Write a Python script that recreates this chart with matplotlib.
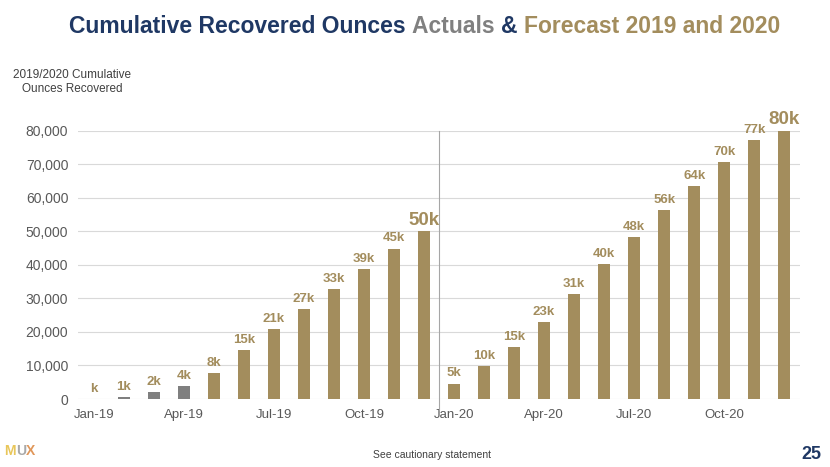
import numpy as np
import matplotlib.pyplot as plt
from matplotlib.ticker import FuncFormatter

plt.rcParams['font.family'] = ['Liberation Sans', 'DejaVu Sans']

# monthly cumulative ounces, Jan-19 .. Dec-20
months = ['Jan-19', 'Feb-19', 'Mar-19', 'Apr-19', 'May-19', 'Jun-19', 'Jul-19', 'Aug-19',
          'Sep-19', 'Oct-19', 'Nov-19', 'Dec-19', 'Jan-20', 'Feb-20', 'Mar-20', 'Apr-20',
          'May-20', 'Jun-20', 'Jul-20', 'Aug-20', 'Sep-20', 'Oct-20', 'Nov-20', 'Dec-20']
ounces = [0, 500, 2000, 3800, 7850, 14700, 20800, 26800, 32900, 38700, 44900, 50000,
          4600, 9800, 15450, 22900, 31200, 40150, 48400, 56300, 63600, 70650, 77300, 80000]
bar_labels = ['k', '1k', '2k', '4k', '8k', '15k', '21k', '27k', '33k', '39k', '45k', '50k',
              '5k', '10k', '15k', '23k', '31k', '40k', '48k', '56k', '64k', '70k', '77k', '80k']
is_actual = [False, True, True, True] + [False] * 20
big_idx = [11, 23]  # year-end totals get bigger labels

navy = '#1F3864'
gold = '#A38D5D'
grey_bar = '#7F7F7F'
txt_grey = '#595959'

fig = plt.figure(figsize=(8.3, 4.67), dpi=100)
ax = fig.add_axes([0.094, 0.1456, 0.87, 0.574])

x = np.arange(len(months))
colors = [grey_bar if a else gold for a in is_actual]
ax.bar(x, ounces, width=0.4, color=colors, zorder=3)

for xi, v, lab in zip(x, ounces, bar_labels):
    big = xi in big_idx
    ax.annotate(lab, (xi, v), xytext=(0, 2 if big else 3), textcoords='offset points',
                ha='center', va='bottom', color=gold, fontweight='bold',
                fontsize=13.5 if big else 9.5, clip_on=False, zorder=4)

ax.set_xlim(-0.53, 23.53)
ax.set_ylim(0, 80000)
ax.set_yticks(np.arange(0, 80001, 10000))
ax.yaxis.set_major_formatter(FuncFormatter(lambda v, p: f'{int(v):,}'))
ax.set_xticks(x[::3])
ax.set_xticklabels(months[::3])
ax.tick_params(length=0, colors=txt_grey)
ax.tick_params(axis='y', labelsize=10, pad=7)
ax.tick_params(axis='x', labelsize=9.5, pad=7)
ax.grid(axis='y', color='#D9D9D9', linewidth=0.8, zorder=0)
for s in ax.spines.values():
    s.set_visible(False)

# separator between 2019 and 2020
ax.axvline(11.5, ymin=-0.04, ymax=1, color='#A6A6A6', linewidth=0.8, clip_on=False, zorder=2)

fig.text(0.087, 0.824, '2019/2020 Cumulative\nOunces Recovered', ha='center', va='center',
         fontsize=8.5, color='#404040', linespacing=1.2)

# title in three colours, placed piece by piece
parts = [('Cumulative Recovered Ounces ', navy), ('Actuals ', '#808080'),
         ('& ', navy), ('Forecast 2019 and 2020', gold)]
renderer = fig.canvas.get_renderer()
texts = []
xpos = 0.0
for s, c in parts:
    t = fig.text(xpos, 0.944, s, fontsize=16.5, fontweight='bold', color=c, va='center', ha='left')
    w = t.get_window_extent(renderer).width / fig.bbox.width
    texts.append((t, w))
    xpos += w
start = 0.512 - xpos / 2
for t, w in texts:
    t.set_x(start)
    start += w

fig.text(0.52, 0.026, 'See cautionary statement', ha='center', va='center', fontsize=7.5, color='#404040')
fig.text(0.978, 0.026, '25', ha='center', va='center', fontsize=13, fontweight='bold', color=navy)

# logo
lx = 0.005
for ch, c in [('M', '#E8C65A'), ('U', '#A9A9A9'), ('X', '#E0975A')]:
    t = fig.text(lx, 0.034, ch, fontsize=10, fontweight='bold', color=c, va='center', ha='left')
    lx += t.get_window_extent(renderer).width / fig.bbox.width

fig.savefig('out.png', dpi=100)
